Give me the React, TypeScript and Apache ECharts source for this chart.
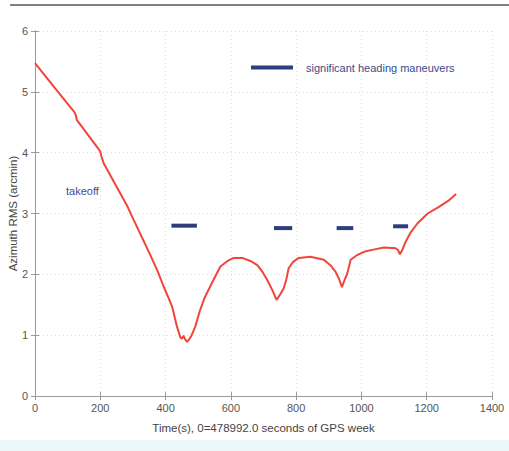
import React, { useEffect, useRef } from "react";
import * as echarts from "echarts";

const timeS = [0, 60, 120, 125, 128, 160, 200, 203, 210, 250, 281, 302, 330, 353, 375, 394, 410, 420, 435, 445, 450, 455, 460, 466, 472, 480, 491, 505, 520, 547, 568, 590, 609, 635, 660, 681, 697, 711, 727, 740, 750, 762, 770, 777, 790, 808, 844, 885, 905, 921, 932, 940, 948, 957, 967, 985, 1008, 1040, 1069, 1105, 1112, 1118, 1125, 1136, 1150, 1172, 1203, 1235, 1269, 1290];
const azimuthRms = [5.47, 5.07, 4.67, 4.62, 4.54, 4.31, 4.02, 3.95, 3.83, 3.44, 3.14, 2.9, 2.58, 2.32, 2.06, 1.8, 1.6, 1.47, 1.14, 0.97, 0.94, 0.99, 0.93, 0.89, 0.93, 1.0, 1.14, 1.4, 1.62, 1.91, 2.13, 2.22, 2.27, 2.27, 2.22, 2.15, 2.04, 1.91, 1.74, 1.58, 1.66, 1.77, 1.92, 2.1, 2.2, 2.27, 2.29, 2.24, 2.15, 2.04, 1.92, 1.79, 1.9, 2.02, 2.24, 2.31, 2.37, 2.41, 2.44, 2.43, 2.4, 2.33, 2.4, 2.54, 2.68, 2.84, 3.0, 3.1, 3.22, 3.32];

const maneuverStart = [418, 732, 924, 1097];
const maneuverEnd = [496, 788, 975, 1143];
const maneuverLevel = [2.8, 2.76, 2.76, 2.79];

const xTicks = [0, 200, 400, 600, 800, 1000, 1200, 1400];
const yTicks = [0, 1, 2, 3, 4, 5, 6];

const legendLabel = "significant heading maneuvers";
const annotation = "takeoff";
const xTitle = "Time(s), 0=478992.0 seconds of GPS week";
const yTitle = "Azimuth RMS (arcmin)";

const FONT = "'Liberation Sans', Arial, sans-serif";
const NAVY = "#2e3d7e";

export default function App() {
  const ref = useRef<HTMLDivElement>(null);
  useEffect(() => {
    if (!ref.current) return;
    const chart = echarts.init(ref.current, undefined, { renderer: "svg" });
    const curve = timeS.map((t, i) => [t, azimuthRms[i]]);
    const maneuverSeries = maneuverStart.map((s, i) => ({
      type: "line",
      name: legendLabel,
      data: [
        [s, maneuverLevel[i]],
        [maneuverEnd[i], maneuverLevel[i]],
      ],
      symbol: "none",
      lineStyle: { color: NAVY, width: 4 },
      itemStyle: { color: NAVY },
      z: 3,
    }));
    const axisLineStyle = { lineStyle: { color: "#9a9a9a", width: 1 } };
    const xMin = xTicks[0];
    const xMax = xTicks[xTicks.length - 1];
    const yMin = yTicks[0];
    const yMax = yTicks[yTicks.length - 1];
    chart.setOption({
      animation: false,
      backgroundColor: "#ffffff",
      textStyle: { fontFamily: FONT },
      grid: { left: 35, right: 17, top: 31, bottom: 55, containLabel: false, outerBoundsMode: "none" },
      legend: {
        left: 246,
        top: 57,
        data: [{ name: legendLabel, icon: "rect" }],
        itemWidth: 42,
        itemHeight: 4,
        textStyle: { color: "#3b4a8c", fontSize: 11, fontFamily: FONT, padding: [0, 0, 0, 8] },
      },
      xAxis: [
        {
          type: "value",
          min: xMin,
          max: xMax,
          interval: 200,
          position: "bottom",
          name: xTitle,
          nameLocation: "middle",
          nameGap: 26,
          nameMoveOverlap: false,
          nameTextStyle: { color: "#444", fontSize: 11.5, fontFamily: FONT },
          axisLine: axisLineStyle,
          axisTick: { inside: true, length: 4, lineStyle: { color: "#9a9a9a" } },
          axisLabel: { color: "#555", fontSize: 11, margin: 6, fontFamily: FONT, formatter: (v: number) => String(v) },
          splitLine: { show: true, lineStyle: { color: "#dddddd", type: [1, 3], width: 1 } },
        },
        {
          type: "value",
          min: xMin,
          max: xMax,
          interval: 200,
          position: "top",
          axisLine: axisLineStyle,
          axisTick: { inside: true, length: 4, lineStyle: { color: "#9a9a9a" } },
          axisLabel: { show: false },
          splitLine: { show: false },
        },
      ],
      yAxis: [
        {
          type: "value",
          min: yMin,
          max: yMax,
          interval: 1,
          position: "left",
          name: yTitle,
          nameLocation: "middle",
          nameGap: 16,
          nameMoveOverlap: false,
          nameTextStyle: { color: "#444", fontSize: 11.5, fontFamily: FONT },
          axisLine: { show: true, ...axisLineStyle },
          axisTick: { show: true, inside: true, length: 4, lineStyle: { color: "#9a9a9a" } },
          axisLabel: { color: "#555", fontSize: 11, margin: 7, fontFamily: FONT },
          splitLine: { show: true, lineStyle: { color: "#dddddd", type: [1, 3], width: 1 } },
        },
        {
          type: "value",
          min: yMin,
          max: yMax,
          interval: 1,
          position: "right",
          axisLine: { show: true, ...axisLineStyle },
          axisTick: { show: true, inside: true, length: 4, lineStyle: { color: "#9a9a9a" } },
          axisLabel: { show: false },
          splitLine: { show: false },
        },
      ],
      graphic: [
        {
          type: "rect",
          left: 10,
          top: 4,
          z: 100,
          shape: { width: 499, height: 2 },
          style: { fill: "#7a837e" },
          silent: true,
        },
        {
          type: "rect",
          left: 0,
          top: 440,
          shape: { width: 509, height: 11 },
          style: { fill: "#eaf8fc" },
          silent: true,
        },
        {
          type: "text",
          left: 66,
          top: 185,
          style: { text: annotation, fill: "#3e4d8e", fontSize: 11, fontFamily: FONT },
        },
      ],
      series: [
        {
          type: "line",
          name: "Azimuth RMS",
          data: curve,
          symbol: "none",
          lineStyle: { color: "#f0463a", width: 2 },
          z: 4,
        },
        ...maneuverSeries,
      ],
    });
    return () => chart.dispose();
  }, []);
  return <div ref={ref} style={{ position: "fixed", left: 0, top: 0, width: 509, height: 451 }} />;
}
